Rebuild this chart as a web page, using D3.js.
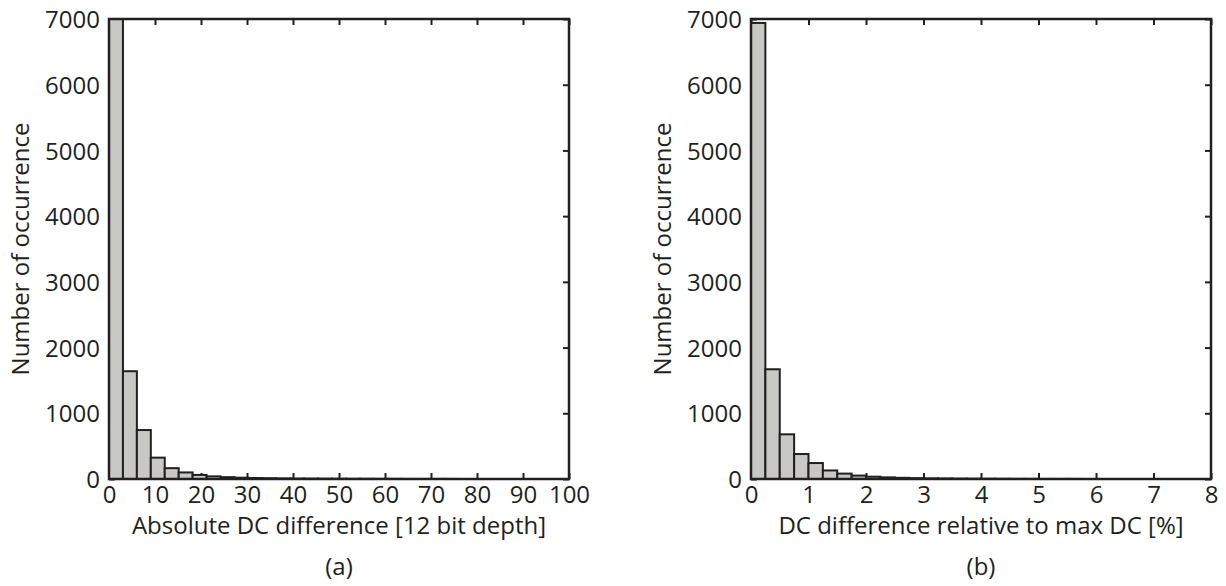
<!DOCTYPE html>
<html>
<head>
<meta charset="utf-8">
<script src="https://cdn.jsdelivr.net/npm/d3@7"></script>
<style>
  html, body { margin: 0; padding: 0; background: #fff; }
  svg { display: block; }
  text { font-family: "Open Sans", "Noto Sans", sans-serif; fill: #231f20; }
</style>
</head>
<body>
<svg id="chart" width="1226" height="586"></svg>
<script>
// ---------- data ----------
// Panel (a): histogram of absolute DC difference, bins of ~3.03 units starting at 0
const countsA = [7000, 1640, 745, 325, 165, 100, 62, 40, 28, 20, 15, 12, 9, 7, 6, 5, 4, 3, 3, 2, 2, 1, 1, 1, 1, 0, 0, 0, 0, 0, 0, 0, 0];
const binWidthA = 100 / 33;
// Panel (b): histogram of relative DC difference, bins of 0.25 % starting at 0
const countsB = [6940, 1670, 680, 380, 243, 130, 82, 52, 35, 25, 18, 13, 10, 8, 6, 5, 4, 3, 2, 2, 1, 1, 1, 0, 0, 0, 0, 0, 0, 0, 0, 0];
const binWidthB = 0.25;

const xTicksA = [0, 10, 20, 30, 40, 50, 60, 70, 80, 90, 100];
const xTicksB = [0, 1, 2, 3, 4, 5, 6, 7, 8];
const yTicks = [0, 1000, 2000, 3000, 4000, 5000, 6000, 7000];

const xLabelA = "Absolute DC difference [12 bit depth]";
const xLabelB = "DC difference relative to max DC [%]";
const yLabel = "Number of occurrence";
const captionA = "(a)";
const captionB = "(b)";

// ---------- drawing ----------
const svg = d3.select("#chart");
const ink = "#231f20";
const fillBar = "#c8c8c4";
const fontSize = 24;

function panel(opts) {
  const { left, top, size, xDomain, xTicks, counts, binWidth, xLabel, caption } = opts;
  const g = svg.append("g").attr("transform", `translate(${left},${top})`);
  const x = d3.scaleLinear().domain(xDomain).range([0, size]);
  const y = d3.scaleLinear().domain([0, 7000]).range([size, 0]);

  const tickLen = 6;
  const bottom = g.append("g").attr("transform", `translate(0,${size})`)
    .call(d3.axisBottom(x).tickValues(xTicks).tickSizeInner(-tickLen).tickSizeOuter(0).tickPadding(6).tickFormat(d3.format("d")));
  const topAx = g.append("g")
    .call(d3.axisTop(x).tickValues(xTicks).tickSizeInner(-tickLen).tickSizeOuter(0).tickFormat(""));
  const leftAx = g.append("g")
    .call(d3.axisLeft(y).tickValues(yTicks).tickSizeInner(-tickLen).tickSizeOuter(0).tickPadding(9).tickFormat(d3.format("d")));
  const rightAx = g.append("g").attr("transform", `translate(${size},0)`)
    .call(d3.axisRight(y).tickValues(yTicks).tickSizeInner(-tickLen).tickSizeOuter(0).tickFormat(""));

  [bottom, topAx, leftAx, rightAx].forEach(a => {
    a.select(".domain").remove();
    a.selectAll(".tick line").attr("stroke", ink).attr("stroke-width", 2);
    a.selectAll(".tick text").attr("font-size", fontSize).attr("font-family", '"Open Sans", sans-serif').attr("fill", ink);
  });
  bottom.selectAll(".tick text").attr("dy", "0.74em");
  leftAx.selectAll(".tick text").attr("dy", "0.36em");

  // bars
  const bins = counts.map((c, i) => ({ x0: i * binWidth, x1: (i + 1) * binWidth, c }));
  g.append("g").selectAll("rect").data(bins.filter(b => b.c > 0)).join("rect")
    .attr("x", d => x(d.x0))
    .attr("width", d => x(d.x1) - x(d.x0))
    .attr("y", d => y(d.c))
    .attr("height", d => y(0) - y(d.c))
    .attr("fill", fillBar)
    .attr("stroke", ink)
    .attr("stroke-width", 2);

  // frame
  g.append("rect").attr("x", 0).attr("y", 0).attr("width", size).attr("height", size)
    .attr("fill", "none").attr("stroke", ink).attr("stroke-width", 2.5);

  // labels
  g.append("text").attr("x", size / 2).attr("y", size + 55)
    .attr("text-anchor", "middle").attr("font-size", fontSize).text(xLabel);
  g.append("text").attr("transform", `translate(${-80},${size / 2}) rotate(-90)`)
    .attr("text-anchor", "middle").attr("font-size", fontSize).text(yLabel);
  g.append("text").attr("x", size / 2).attr("y", size + 96)
    .attr("text-anchor", "middle").attr("font-size", fontSize).text(caption);
}

panel({ left: 109, top: 19, size: 460, xDomain: [0, 100], xTicks: xTicksA, counts: countsA, binWidth: binWidthA, xLabel: xLabelA, caption: captionA });
panel({ left: 751, top: 19, size: 460, xDomain: [0, 8], xTicks: xTicksB, counts: countsB, binWidth: binWidthB, xLabel: xLabelB, caption: captionB });
</script>
</body>
</html>
